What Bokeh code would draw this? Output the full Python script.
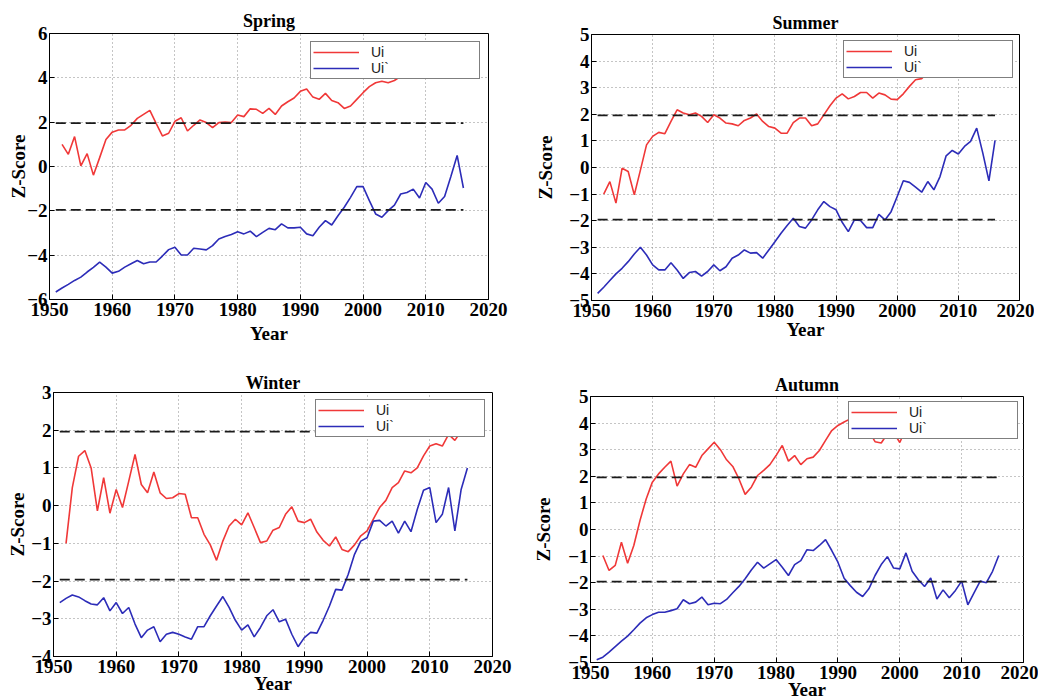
from bokeh.plotting import figure
from bokeh.layouts import column, row
from bokeh.models import Legend, LegendItem, FixedTicker, Range1d
from bokeh.embed import file_html
from bokeh.resources import INLINE

# ---------------- data ----------------
UI_YEARS = list(range(1952, 2017))   # forward statistic Ui
UB_YEARS = list(range(1951, 2017))   # backward statistic Ui`
X_TICKS = [1950, 1960, 1970, 1980, 1990, 2000, 2010, 2020]
THRESHOLDS = [1.96, -1.96]
LABELS = ["Ui", "Ui`"]

spring_ui = [1.0, 0.55, 1.35, 0.03, 0.58, -0.39, 0.4, 1.22, 1.55, 1.65,
             1.65, 1.86, 2.17, 2.35, 2.53, 1.95, 1.38, 1.5, 2.04, 2.2,
             1.6, 1.86, 2.1, 1.98, 1.75, 1.98, 2.0, 1.98, 2.32, 2.25,
             2.6, 2.58, 2.4, 2.62, 2.35, 2.73, 2.92, 3.09, 3.39, 3.5,
             3.13, 3.03, 3.3, 2.98, 2.88, 2.62, 2.73, 3.03, 3.33, 3.6,
             3.78, 3.85, 3.78, 3.88, 4.07, 4.35, 4.5, 4.45, 4.2, 4.22,
             4.45, 4.4, 4.6, 4.1, 4.35]
spring_ub = [-5.66, -5.48, -5.32, -5.14, -4.99, -4.76, -4.55, -4.31, -4.54, -4.81,
             -4.73, -4.54, -4.39, -4.24, -4.39, -4.31, -4.31, -4.04, -3.75, -3.64,
             -3.99, -3.99, -3.69, -3.72, -3.76, -3.57, -3.27, -3.16, -3.07, -2.94,
             -3.04, -2.92, -3.16, -2.97, -2.79, -2.85, -2.59, -2.77, -2.77, -2.74,
             -3.04, -3.12, -2.74, -2.44, -2.64, -2.22, -1.84, -1.39, -0.91, -0.91,
             -1.54, -2.14, -2.29, -1.99, -1.74, -1.24, -1.17, -1.02, -1.42, -0.72,
             -1.02, -1.66, -1.35, -0.45, 0.5, -0.97]

summer_ui = [-1.0, -0.53, -1.34, -0.03, -0.15, -1.03, -0.1, 0.85, 1.17, 1.32,
             1.27, 1.73, 2.17, 2.05, 1.98, 2.05, 1.92, 1.69, 1.98, 1.86,
             1.67, 1.64, 1.57, 1.77, 1.86, 2.01, 1.73, 1.54, 1.48, 1.29,
             1.29, 1.69, 1.86, 1.86, 1.57, 1.64, 1.98, 2.32, 2.61, 2.77,
             2.58, 2.67, 2.82, 2.82, 2.61, 2.8, 2.73, 2.57, 2.55, 2.77,
             3.05, 3.3, 3.34, 3.6, 3.75, 3.9, 3.8, 3.7, 3.6, 3.52,
             3.5, 3.65, 3.8, 3.7, 3.75]
summer_ub = [-4.73, -4.5, -4.25, -4.0, -3.79, -3.54, -3.25, -3.0, -3.29, -3.66,
             -3.85, -3.85, -3.58, -3.85, -4.17, -3.95, -3.91, -4.08, -3.91, -3.66,
             -3.88, -3.73, -3.41, -3.29, -3.1, -3.22, -3.2, -3.41, -3.1, -2.79,
             -2.47, -2.18, -1.91, -2.22, -2.28, -1.97, -1.59, -1.28, -1.47, -1.59,
             -2.06, -2.41, -1.97, -1.99, -2.26, -2.26, -1.76, -1.97, -1.66, -1.09,
             -0.5, -0.56, -0.74, -0.93, -0.53, -0.84, -0.34, 0.44, 0.64, 0.51,
             0.79, 0.98, 1.48, 0.54, -0.5, 1.02]

winter_ui = [-1.0, 0.48, 1.31, 1.46, 1.0, -0.14, 0.74, -0.2, 0.43, -0.05,
             0.65, 1.36, 0.56, 0.34, 0.89, 0.34, 0.19, 0.21, 0.32, 0.3,
             -0.32, -0.32, -0.76, -1.04, -1.45, -0.94, -0.54, -0.36, -0.51, -0.19,
             -0.58, -0.98, -0.94, -0.65, -0.58, -0.23, -0.03, -0.41, -0.45, -0.36,
             -0.7, -0.92, -1.07, -0.83, -1.16, -1.22, -1.04, -0.8, -0.67, -0.36,
             -0.05, 0.14, 0.48, 0.61, 0.92, 0.87, 1.0, 1.32, 1.58, 1.64,
             1.58, 1.89, 1.73, 1.98, 2.2]
winter_ub = [-2.57, -2.46, -2.37, -2.42, -2.52, -2.61, -2.63, -2.44, -2.79, -2.57,
             -2.86, -2.7, -3.14, -3.5, -3.3, -3.21, -3.61, -3.41, -3.36, -3.41,
             -3.48, -3.54, -3.21, -3.21, -2.92, -2.66, -2.41, -2.7, -3.04, -3.3,
             -3.16, -3.48, -3.23, -2.92, -2.76, -3.08, -3.01, -3.41, -3.74, -3.5,
             -3.36, -3.38, -3.04, -2.66, -2.22, -2.24, -1.82, -1.29, -0.94, -0.85,
             -0.41, -0.39, -0.54, -0.41, -0.73, -0.41, -0.69, -0.1, 0.41, 0.48,
             -0.45, -0.23, 0.48, -0.67, 0.43, 1.0]

autumn_ui = [-0.98, -1.54, -1.35, -0.48, -1.27, -0.6, 0.34, 1.15, 1.78, 2.09,
             2.34, 2.57, 1.63, 2.09, 2.44, 2.34, 2.78, 3.03, 3.28, 3.0,
             2.62, 2.37, 1.9, 1.32, 1.59, 2.03, 2.22, 2.44, 2.78, 3.16,
             2.57, 2.78, 2.44, 2.66, 2.72, 2.97, 3.35, 3.72, 3.91, 4.04,
             4.16, 4.3, 4.2, 3.7, 3.3, 3.25, 3.6, 3.65, 3.27, 3.8,
             3.9, 3.8, 3.9, 3.75, 3.7, 3.8, 3.7, 3.75, 3.65, 3.55,
             3.52, 3.7, 3.65, 3.6, 3.55]
autumn_ub = [-4.9, -4.8, -4.61, -4.4, -4.2, -4.01, -3.77, -3.52, -3.32, -3.2,
             -3.11, -3.11, -3.05, -2.98, -2.64, -2.79, -2.73, -2.54, -2.83, -2.77,
             -2.79, -2.63, -2.38, -2.14, -1.85, -1.52, -1.23, -1.45, -1.29, -1.13,
             -1.42, -1.73, -1.32, -1.17, -0.76, -0.79, -0.6, -0.38, -0.79, -1.23,
             -1.83, -2.11, -2.36, -2.52, -2.23, -1.73, -1.32, -1.02, -1.45, -1.48,
             -0.88, -1.57, -1.89, -2.14, -1.82, -2.61, -2.27, -2.57, -2.29, -1.94,
             -2.83, -2.38, -1.94, -2.0, -1.57, -0.98]

spring_yticks = [-6, -4, -2, 0, 2, 4, 6]
summer_yticks = [-5, -4, -3, -2, -1, 0, 1, 2, 3, 4, 5]
winter_yticks = [-4, -3, -2, -1, 0, 1, 2, 3]
autumn_yticks = [-5, -4, -3, -2, -1, 0, 1, 2, 3, 4, 5]

# ---------------- style ----------------
RED = "#f03838"
BLUE = "#2c2cb8"
SERIF = "Liberation Serif"
SANS = "Liberation Sans"


def panel(title, ui, ub, yticks, width, height, bl, br, bt, bb,
          title_offset, title_standoff, xls, yls, legend_margin):
    p = figure(width=width, height=height,
               x_range=Range1d(X_TICKS[0], X_TICKS[-1]),
               y_range=Range1d(yticks[0], yticks[-1]),
               output_backend="svg", toolbar_location=None,
               min_border_left=bl, min_border_right=br,
               min_border_top=bt, min_border_bottom=bb)
    p.background_fill_color = "white"
    p.border_fill_color = "white"
    p.outline_line_color = "black"
    p.outline_line_width = 1

    p.title.text = title
    p.title.align = "center"
    p.title.offset = title_offset
    p.title.standoff = title_standoff
    p.title.text_font = SERIF
    p.title.text_font_style = "bold"
    p.title.text_font_size = "18px"
    p.title.text_color = "black"

    p.xaxis.ticker = FixedTicker(ticks=X_TICKS)
    p.yaxis.ticker = FixedTicker(ticks=yticks)
    p.xaxis.axis_label = "Year"
    p.yaxis.axis_label = "Z-Score"
    for ax in (p.xaxis, p.yaxis):
        ax.axis_line_color = "black"
        ax.major_tick_in = 5
        ax.major_tick_out = 0
        ax.minor_tick_line_color = None
        ax.major_tick_line_color = "black"
        ax.major_label_text_font = SERIF
        ax.major_label_text_font_style = "bold"
        ax.major_label_text_font_size = "19px"
        ax.major_label_text_color = "black"
        ax.axis_label_text_font = SERIF
        ax.axis_label_text_font_style = "bold"
        ax.axis_label_text_font_size = "19px"
        ax.axis_label_text_color = "black"
    p.xaxis.major_label_standoff = 3
    p.yaxis.major_label_standoff = 2
    p.xaxis.axis_label_standoff = xls
    p.yaxis.axis_label_standoff = yls

    for g in (p.xgrid, p.ygrid):
        g.grid_line_color = "#8a8a8a"
        g.grid_line_dash = "1 3"
        g.grid_line_width = 1

    r1 = p.line(UI_YEARS, ui, line_color=RED, line_width=1.6)
    r2 = p.line(UB_YEARS, ub, line_color=BLUE, line_width=1.6)

    for thr in THRESHOLDS:
        p.line([UB_YEARS[0], UB_YEARS[-1]], [thr, thr], line_color="#1a1a1a",
               line_width=1.8, line_dash="10 5")

    leg = Legend(items=[LegendItem(label=LABELS[0], renderers=[r1]),
                        LegendItem(label=LABELS[1], renderers=[r2])],
                 location="top_right", margin=legend_margin, padding=2,
                 spacing=0, glyph_width=46, glyph_height=14,
                 label_height=14, label_width=106, label_standoff=12,
                 label_text_font=SANS, label_text_font_size="14px",
                 label_text_color="#1a1a1a",
                 border_line_color="black", border_line_width=1,
                 background_fill_color="white", background_fill_alpha=1.0)
    p.add_layout(leg)
    return p


spring = panel("Spring", spring_ui, spring_ub, spring_yticks,
               532, 360, 49, 44, 33, 61, 6, 6, 4, -5, 8)
summer = panel("Summer", summer_ui, summer_ub, summer_yticks,
               502, 360, 49, 15, 34, 60, -50, 3, -1, 10, 6)
winter = panel("Winter", winter_ui, winter_ub, winter_yticks,
               530, 344, 53, 38, 32, 48, 4, 0, -3, 0, 7)
autumn = panel("Autumn", autumn_ui, autumn_ub, autumn_yticks,
               508, 344, 55, 15, 36, 42, 8, 3, -3, 11, 5)

layout = column(row(column(spring), column(summer), spacing=0),
                row(column(winter), column(autumn), spacing=0),
                spacing=0)

open("out.html", "w").write(file_html(layout, INLINE))
